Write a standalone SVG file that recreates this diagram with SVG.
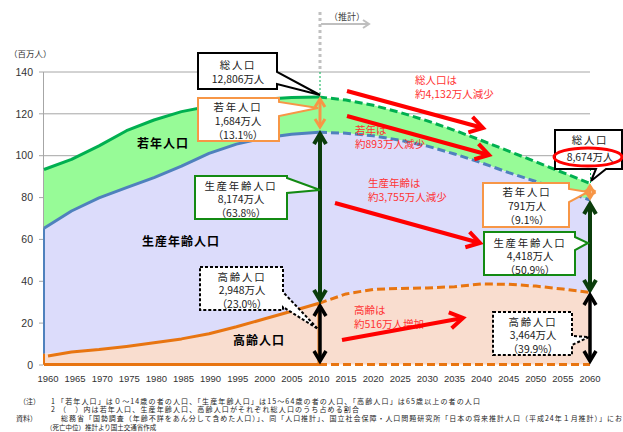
<svg xmlns="http://www.w3.org/2000/svg" width="623" height="432" viewBox="0 0 623 432">
<style>
.co{font-family:"Noto Sans CJK JP","Noto Sans",sans-serif;font-size:10.4px;fill:#1a1a1a;text-anchor:middle}
.ttl{letter-spacing:1.8px}
.ax{font-family:"Liberation Sans",Arial,sans-serif;fill:#333}
.yl{font-size:10.5px;text-anchor:end}
.xl{font-size:9.5px;text-anchor:middle}
.grid{stroke:#A6A6A6;stroke-width:1}
.red{font-family:"Noto Sans CJK JP",sans-serif;font-size:10.5px;fill:#FF3333}
.big{font-family:"Noto Sans CJK JP",sans-serif;font-size:12px;font-weight:bold;fill:#000;text-anchor:middle;letter-spacing:1px}
.note{font-family:"Noto Sans CJK JP",sans-serif;font-size:7px;fill:#222}
.bx{fill:#fff;stroke-width:2;stroke-linejoin:miter}
.dash{stroke-dasharray:8 4}
.ser{fill:none;stroke-width:3;stroke-linejoin:round}
</style>
<defs>
<marker id="mRed" viewBox="-16 -11 20 22" markerWidth="20" markerHeight="22" refX="0" refY="0" markerUnits="userSpaceOnUse" orient="auto" overflow="visible"><path d="M-13,-8 L0,0 L-13,8" fill="none" stroke="#FF0000" stroke-width="4"/></marker>
<marker id="mDg" viewBox="-14 -9 18 18" markerWidth="18" markerHeight="18" refX="0" refY="0" markerUnits="userSpaceOnUse" orient="auto-start-reverse" overflow="visible"><path d="M-10,-6 L0,0 L-10,6" fill="none" stroke="#0B3D0B" stroke-width="4"/></marker>
<marker id="mBk" viewBox="-14 -9 18 18" markerWidth="18" markerHeight="18" refX="0" refY="0" markerUnits="userSpaceOnUse" orient="auto-start-reverse" overflow="visible"><path d="M-10,-6 L0,0 L-10,6" fill="none" stroke="#000" stroke-width="3.5"/></marker>
<marker id="mOr" viewBox="-12 -8 16 16" markerWidth="16" markerHeight="16" refX="0" refY="0" markerUnits="userSpaceOnUse" orient="auto-start-reverse" overflow="visible"><path d="M-8,-5 L0,0 L-8,5" fill="none" stroke="#F79646" stroke-width="3"/></marker>
<marker id="mGy" viewBox="-9 -6 12 12" markerWidth="12" markerHeight="12" refX="0" refY="0" markerUnits="userSpaceOnUse" orient="auto" overflow="visible"><path d="M-6,-4 L0,0 L-6,4" fill="none" stroke="#BFBFBF" stroke-width="2"/></marker>
</defs>
<rect width="623" height="432" fill="#fff"/>

<g id="axes">
<g class="grid">
<line x1="43" y1="72" x2="590" y2="72"/>
<line x1="43" y1="113.8" x2="590" y2="113.8"/>
<line x1="43" y1="155.7" x2="590" y2="155.7"/>
<line x1="43" y1="197.6" x2="590" y2="197.6"/>
<line x1="43" y1="239.4" x2="590" y2="239.4"/>
<line x1="43" y1="281.3" x2="590" y2="281.3"/>
<line x1="43" y1="323.1" x2="590" y2="323.1"/>
<line x1="43.5" y1="72" x2="43.5" y2="365"/>
<line x1="39" y1="72" x2="43" y2="72"/>
<line x1="39" y1="113.8" x2="43" y2="113.8"/>
<line x1="39" y1="155.7" x2="43" y2="155.7"/>
<line x1="39" y1="197.6" x2="43" y2="197.6"/>
<line x1="39" y1="239.4" x2="43" y2="239.4"/>
<line x1="39" y1="281.3" x2="43" y2="281.3"/>
<line x1="39" y1="323.1" x2="43" y2="323.1"/>
<line x1="39" y1="365" x2="43" y2="365"/>
</g>
<text class="note" x="9" y="57" style="font-size:8.5px;fill:#333">（百万人）</text>
<g class="ax yl">
<text x="33" y="75.7">140</text>
<text x="33" y="117.5">120</text>
<text x="33" y="159.4">100</text>
<text x="33" y="201.3">80</text>
<text x="33" y="243.1">60</text>
<text x="33" y="285">40</text>
<text x="33" y="326.8">20</text>
<text x="33" y="368.7">0</text>
</g>
<g class="ax xl">
<text x="48" y="381.5">1960</text>
<text x="75.1" y="381.5">1965</text>
<text x="102.2" y="381.5">1970</text>
<text x="129.3" y="381.5">1975</text>
<text x="156.4" y="381.5">1980</text>
<text x="183.5" y="381.5">1985</text>
<text x="210.6" y="381.5">1990</text>
<text x="237.7" y="381.5">1995</text>
<text x="264.8" y="381.5">2000</text>
<text x="291.9" y="381.5">2005</text>
<text x="319" y="381.5">2010</text>
<text x="346.1" y="381.5">2015</text>
<text x="373.2" y="381.5">2020</text>
<text x="400.3" y="381.5">2025</text>
<text x="427.4" y="381.5">2030</text>
<text x="454.5" y="381.5">2035</text>
<text x="481.6" y="381.5">2040</text>
<text x="508.7" y="381.5">2045</text>
<text x="535.8" y="381.5">2050</text>
<text x="562.9" y="381.5">2055</text>
<text x="590" y="381.5">2060</text>
</g>
</g>

<g id="areas">
<polygon fill="#97FB97" points="44,169.5 71.5,159.3 99,145.9 126.5,130.7 154,120.0 181.5,111.6 209,106.3 236.5,102.2 264,99.3 291.5,97.6 319,97.0 346.1,100.0 373.2,105.3 400.3,112.5 427.4,120.9 454.5,130.3 481.6,140.5 508.7,151.1 535.8,161.8 562.9,172.6 590,183.5 590,200.0 562.9,190.6 535.8,181.5 508.7,172.6 481.6,162.9 454.5,154.0 427.4,146.1 400.3,140.2 373.2,135.8 346.1,133.2 319,132.2 291.5,134.2 264,138.0 236.5,144.1 209,153.4 181.5,166.1 154,177.6 126.5,187.7 99,197.9 71.5,211.0 44,228.2"/>
<polygon fill="#DCDCFB" points="44,228.2 71.5,211.0 99,197.9 126.5,187.7 154,177.6 181.5,166.1 209,153.4 236.5,144.1 264,138.0 291.5,134.2 319,132.2 346.1,133.2 373.2,135.8 400.3,140.2 427.4,146.1 454.5,154.0 481.6,162.9 508.7,172.6 535.8,181.5 562.9,190.6 590,200.0 590,292.5 562.9,289.1 535.8,286.1 508.7,284.3 481.6,284.0 454.5,286.7 427.4,287.9 400.3,288.5 373.2,289.4 346.1,293.9 319,303.3 291.5,311.3 264,319.0 236.5,326.8 209,333.8 181.5,338.9 154,342.7 126.5,346.4 99,349.5 71.5,351.9 44,353.8"/>
<polygon fill="#F9DDCF" points="44,353.8 71.5,351.9 99,349.5 126.5,346.4 154,342.7 181.5,338.9 209,333.8 236.5,326.8 264,319.0 291.5,311.3 319,303.3 346.1,293.9 373.2,289.4 400.3,288.5 427.4,287.9 454.5,286.7 481.6,284.0 508.7,284.3 535.8,286.1 562.9,289.1 590,292.5 590,364.5 44,364.5"/>
</g>

<g id="series">
<polyline class="ser" stroke="#00B050" points="44,169.5 71.5,159.3 99,145.9 126.5,130.7 154,120.0 181.5,111.6 209,106.3 236.5,102.2 264,99.3 291.5,97.6 319,97.0"/>
<polyline class="ser dash" stroke="#00B050" points="319,97.0 346.1,100.0 373.2,105.3 400.3,112.5 427.4,120.9 454.5,130.3 481.6,140.5 508.7,151.1 535.8,161.8 562.9,172.6 590,183.5"/>
<polyline class="ser" stroke="#4F81BD" points="44,228.2 71.5,211.0 99,197.9 126.5,187.7 154,177.6 181.5,166.1 209,153.4 236.5,144.1 264,138.0 291.5,134.2 319,132.2"/>
<polyline class="ser dash" stroke="#4F81BD" points="319,132.2 346.1,133.2 373.2,135.8 400.3,140.2 427.4,146.1 454.5,154.0 481.6,162.9 508.7,172.6 535.8,181.5 562.9,190.6 590,200.0"/>
<polyline class="ser" stroke="#E87511" points="48,356 71.5,351.9 99,349.5 126.5,346.4 154,342.7 181.5,338.9 209,333.8 236.5,326.8 264,319.0 291.5,311.3 319,303.3"/>
<polyline class="ser dash" stroke="#E87511" points="319,303.3 346.1,293.9 373.2,289.4 400.3,288.5 427.4,287.9 454.5,286.7 481.6,284.0 508.7,284.3 535.8,286.1 562.9,289.1 590,292.5"/>
<line x1="44" y1="364.5" x2="319" y2="364.5" stroke="#E87511" stroke-width="3"/>
<line class="dash" x1="319" y1="364.5" x2="590" y2="364.5" stroke="#E87511" stroke-width="3"/>
<line x1="318.5" y1="303.3" x2="318.5" y2="364.5" stroke="#E87511" stroke-width="2"/>
<line x1="44" y1="228.2" x2="44" y2="353.8" stroke="#4F81BD" stroke-width="2"/>
<line x1="44" y1="353.8" x2="44" y2="364.5" stroke="#E87511" stroke-width="2"/>
<line x1="320" y1="12" x2="320" y2="72" stroke="#C0C0C0" stroke-width="3" stroke-dasharray="3 3"/>
<line x1="320" y1="72" x2="320" y2="96" stroke="#00B050" stroke-width="1" stroke-dasharray="2 2"/>
<line x1="590.5" y1="169" x2="590.5" y2="183" stroke="#00B050" stroke-width="1" stroke-dasharray="2 2"/>
</g>

<g id="area-labels">
<text class="big" x="163" y="148">若年人口</text>
<text class="big" x="181" y="246">生産年齢人口</text>
<text class="big" x="259" y="345">高齢人口</text>
<text class="note" x="347" y="19.5" style="font-size:9px;fill:#404040;text-anchor:middle">（推計）</text>
<text class="red" x="415" y="83.5">総人口は<tspan x="415" dy="14">約4,132万人減少</tspan></text>
<text class="red" x="355" y="134">若年は<tspan x="355" dy="14">約893万人減少</tspan></text>
<text class="red" x="368" y="187">生産年齢は<tspan x="368" dy="14">約3,755万人減少</tspan></text>
<text class="red" x="354" y="313.5">高齢は<tspan x="354" dy="14">約516万人増加</tspan></text>
</g>

<g id="connectors">
<line x1="321" y1="24" x2="369" y2="24" stroke="#BFBFBF" stroke-width="2" marker-end="url(#mGy)"/>
<line x1="347" y1="91" x2="483" y2="128" stroke="#FF0000" stroke-width="4" marker-end="url(#mRed)"/>
<line x1="347" y1="116" x2="489" y2="155" stroke="#FF0000" stroke-width="4" marker-end="url(#mRed)"/>
<line x1="335" y1="203" x2="480" y2="243" stroke="#FF0000" stroke-width="4" marker-end="url(#mRed)"/>
<line x1="342" y1="340" x2="463" y2="318" stroke="#FF0000" stroke-width="4" marker-end="url(#mRed)"/>
<line x1="320" y1="99" x2="320" y2="127" stroke="#F79646" stroke-width="3" marker-start="url(#mOr)" marker-end="url(#mOr)"/>
<line x1="320" y1="134" x2="320" y2="300" stroke="#0B3D0B" stroke-width="4" marker-start="url(#mDg)" marker-end="url(#mDg)"/>
<line x1="320" y1="306" x2="320" y2="361" stroke="#000" stroke-width="3.5" marker-start="url(#mBk)" marker-end="url(#mBk)"/>
<line x1="590" y1="186" x2="590" y2="198" stroke="#F79646" stroke-width="3" marker-start="url(#mOr)" marker-end="url(#mOr)"/>
<line x1="590" y1="204" x2="590" y2="290" stroke="#0B3D0B" stroke-width="4" marker-start="url(#mDg)" marker-end="url(#mDg)"/>
<line x1="590" y1="295" x2="590" y2="361" stroke="#000" stroke-width="3.5" marker-start="url(#mBk)" marker-end="url(#mBk)"/>
</g>

<g id="total-2010">
<path class="bx" stroke="#000" d="M198,53 H277 V72 L320,95 L277,84 V89 H198 Z"/>
<text class="co" x="238" y="69"><tspan class="ttl">総人口</tspan><tspan x="238" dy="14">12,806万人</tspan></text>
</g>
<g id="young-2010">
<path class="bx" stroke="#F79646" stroke-width="2.5" d="M198,98 H279 V102 L318,108 L279,116 V141 H198 Z"/>
<text class="co" x="238" y="111"><tspan class="ttl">若年人口</tspan><tspan x="238" dy="14">1,684万人</tspan><tspan x="238" dy="14">（13.1%）</tspan></text>
</g>
<g id="working-2010">
<path class="bx" stroke="#138A13" d="M195,176 H287 V178 L320,190 L287,193 V219 H195 Z"/>
<text class="co" x="241" y="189.5"><tspan class="ttl">生産年齢人口</tspan><tspan x="241" dy="13.5">8,174万人</tspan><tspan x="241" dy="13.5">（63.8%）</tspan></text>
</g>
<g id="elderly-2010">
<path class="bx" stroke="#000" stroke-width="1.2" stroke-dasharray="3 2" d="M200,267 H283 V292 L318,329 L283,307 V310 H200 Z"/>
<text class="co" x="242" y="280.5"><tspan class="ttl">高齢人口</tspan><tspan x="242" dy="13.5">2,948万人</tspan><tspan x="242" dy="13.5">（23.0%）</tspan></text>
</g>
<g id="total-2060">
<path class="bx" stroke="#000" d="M555,130 H622 V169 H606 L591,181 L596,169 H555 Z"/>
<text class="co" x="590" y="144"><tspan class="ttl">総人口</tspan><tspan x="590" dy="17">8,674万人</tspan></text>
<ellipse cx="588" cy="157" rx="34" ry="9" fill="none" stroke="#FF0000" stroke-width="3"/>
</g>
<g id="young-2060">
<path class="bx" stroke="#F79646" stroke-width="2.5" d="M483,183 H569 V189 L588,192 L569,202 V227 H483 Z"/>
<text class="co" x="527" y="196"><tspan class="ttl">若年人口</tspan><tspan x="527" dy="14">791万人</tspan><tspan x="527" dy="14">（9.1%）</tspan></text>
</g>
<g id="working-2060">
<path class="bx" stroke="#138A13" d="M484,232 H575 V237 L588,243 L575,250 V275 H484 Z"/>
<text class="co" x="530" y="246.5"><tspan class="ttl">生産年齢人口</tspan><tspan x="530" dy="13.5">4,418万人</tspan><tspan x="530" dy="13.5">（50.9%）</tspan></text>
</g>
<g id="elderly-2060">
<path class="bx" stroke="#000" stroke-width="1.2" stroke-dasharray="3 2" d="M493,312 H572 V336 L589,337 L572,345 V355 H493 Z"/>
<text class="co" x="533" y="325.5"><tspan class="ttl">高齢人口</tspan><tspan x="533" dy="13.5">3,464万人</tspan><tspan x="533" dy="13.5">（39.9%）</tspan></text>
</g>

<g id="notes">
<text class="note" x="19" y="403.6">（注）<tspan x="51">1</tspan><tspan x="57" textLength="423">「若年人口」は０～14歳の者の人口、「生産年齢人口」は15～64歳の者の人口、「高齢人口」は65歳以上の者の人口</tspan><tspan x="51" y="412.4">2</tspan><tspan x="59" y="412.4" textLength="300">（　）内は若年人口、生産年齢人口、高齢人口がそれぞれ総人口のうち占める割合</tspan><tspan x="16" y="421.2">資料）</tspan><tspan x="61" y="421.2" textLength="561">総務省「国勢調査（年齢不詳をあん分して含めた人口）」、同「人口推計」、国立社会保障・人口問題研究所「日本の将来推計人口（平成24年１月推計）」にお</tspan><tspan x="46" y="430" style="font-size:6.5px">（死亡中位）推計より国土交通省作成</tspan></text>
</g>
</svg>
